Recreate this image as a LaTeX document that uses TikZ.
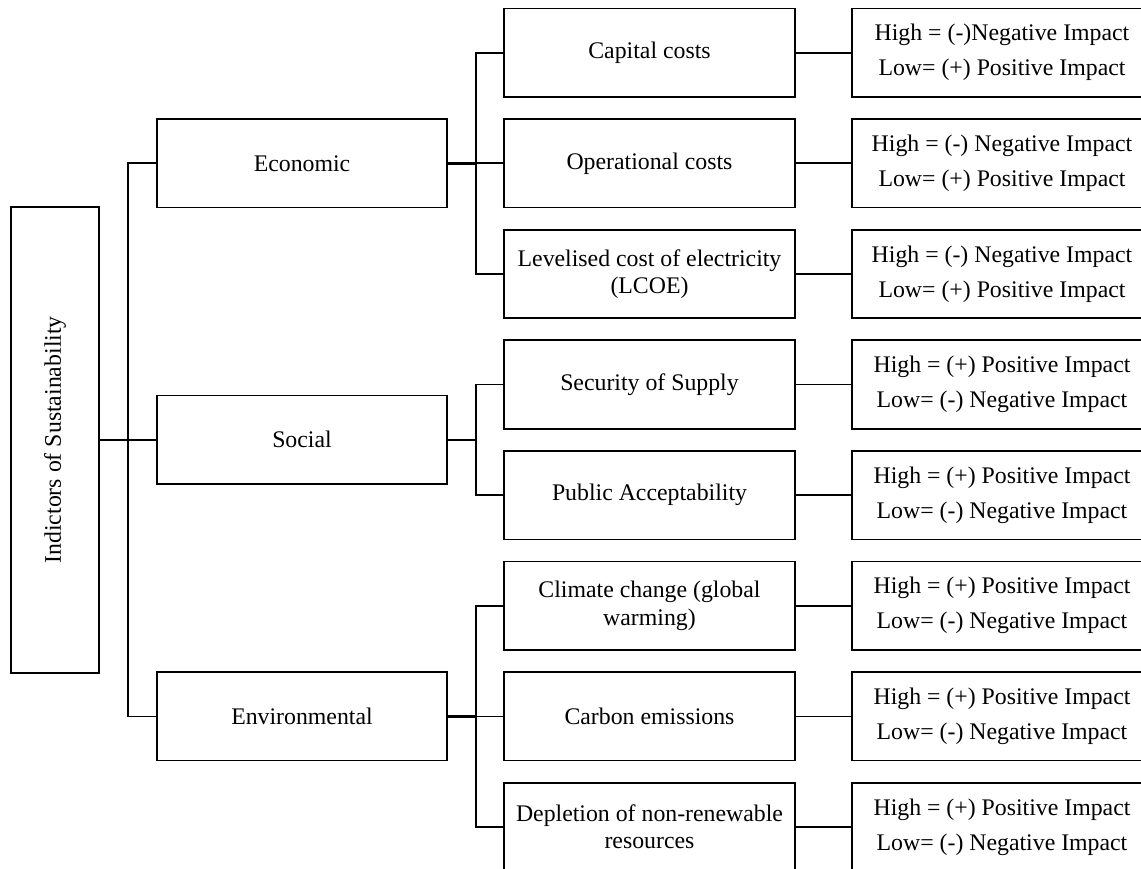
\documentclass[tikz,border=0pt]{standalone}
\usepackage{fontspec}
\setmainfont{Liberation Serif}
\begin{document}
\begin{tikzpicture}[x=1pt,y=-1pt,
  every node/.style={font=\fontsize{23.8}{27.4}\selectfont},
  box/.style={draw, line width=1.7pt, inner sep=0pt, align=center},
  rootbox/.style={box, minimum width=88pt, minimum height=466pt},
  catbox/.style={box, minimum width=290pt, minimum height=88.5pt},
  itembox/.style={box, minimum width=291pt, minimum height=88.5pt},
  impactbox/.style={box, minimum width=300pt, minimum height=88.5pt,
    font=\fontsize{23.8}{35}\selectfont},
  link/.style={line width=1.7pt},
  boldlink/.style={line width=2.5pt}]
\useasboundingbox (0,0) rectangle (1141,869);
\clip (0,0) rectangle (1141,869);

% root
\node[rootbox] (root) at (55,439.85) {};
\node[rotate=90] (roottext) at (root.center) {Indictors of Sustainability};

% categories
\node[catbox] (econ) at (302,163.35) {Economic};
\node[catbox] (soc)  at (302,439.85) {Social};
\node[catbox] (env)  at (302,716.35) {Environmental};

% indicators
\node[itembox] (cap)  at (649.5,52.75)  {Capital costs};
\node[itembox] (op)   at (649.5,163.35) {Operational costs};
\node[itembox] (lcoe) at (649.5,273.95) {Levelised cost of electricity\\(LCOE)};
\node[itembox] (sec)  at (649.5,384.55) {Security of Supply};
\node[itembox] (pub)  at (649.5,495.15) {Public Acceptability};
\node[itembox] (clim) at (649.5,605.75) {Climate change (global\\warming)};
\node[itembox] (carb) at (649.5,716.35) {Carbon emissions};
\node[itembox] (depl) at (649.5,826.95) {Depletion of non-renewable\\resources};

% impact interpretation (boxes run past the right edge)
\node[impactbox] (icap)  at (1002,52.75)  {High = (-)Negative Impact\\Low= (+) Positive Impact};
\node[impactbox] (iop)   at (1002,163.35) {High = (-) Negative Impact\\Low= (+) Positive Impact};
\node[impactbox] (ilcoe) at (1002,273.95) {High = (-) Negative Impact\\Low= (+) Positive Impact};
\node[impactbox] (isec)  at (1002,384.55) {High = (+) Positive Impact\\Low= (-) Negative Impact};
\node[impactbox] (ipub)  at (1002,495.15) {High = (+) Positive Impact\\Low= (-) Negative Impact};
\node[impactbox] (iclim) at (1002,605.75) {High = (+) Positive Impact\\Low= (-) Negative Impact};
\node[impactbox] (icarb) at (1002,716.35) {High = (+) Positive Impact\\Low= (-) Negative Impact};
\node[impactbox] (idepl) at (1002,826.95) {High = (+) Positive Impact\\Low= (-) Negative Impact};

% branching points
\coordinate (s0) at (128,439.85);
\coordinate (s1) at (476,163.35);
\coordinate (s2) at (476,439.85);
\coordinate (s3) at (476,716.35);

% root to categories
\draw[link] (root.east) -- (s0);
\draw[link] (econ.west) -| (s0);
\draw[link] (env.west) -| (s0);
\draw[link] (soc.west) -- (s0);

% categories to indicators
\draw[boldlink] (econ.east) -- (s1);
\draw[link] (cap.west) -| (s1);
\draw[link] (lcoe.west) -| (s1);
\draw[link] (op.west) -- (s1);

\draw[boldlink] (soc.east) -- (s2);
\draw[link] (sec.west) -| (s2);
\draw[link] (pub.west) -| (s2);

\draw[boldlink] (env.east) -- (s3);
\draw[link] (clim.west) -| (s3);
\draw[link] (depl.west) -| (s3);
\draw[link] (carb.west) -- (s3);

% indicators to impacts
\draw[link] (cap.east) -- (icap.west);
\draw[link] (op.east) -- (iop.west);
\draw[link] (lcoe.east) -- (ilcoe.west);
\draw[link] (sec.east) -- (isec.west);
\draw[link] (pub.east) -- (ipub.west);
\draw[link] (clim.east) -- (iclim.west);
\draw[link] (carb.east) -- (icarb.west);
\draw[link] (depl.east) -- (idepl.west);
\end{tikzpicture}
\end{document}
